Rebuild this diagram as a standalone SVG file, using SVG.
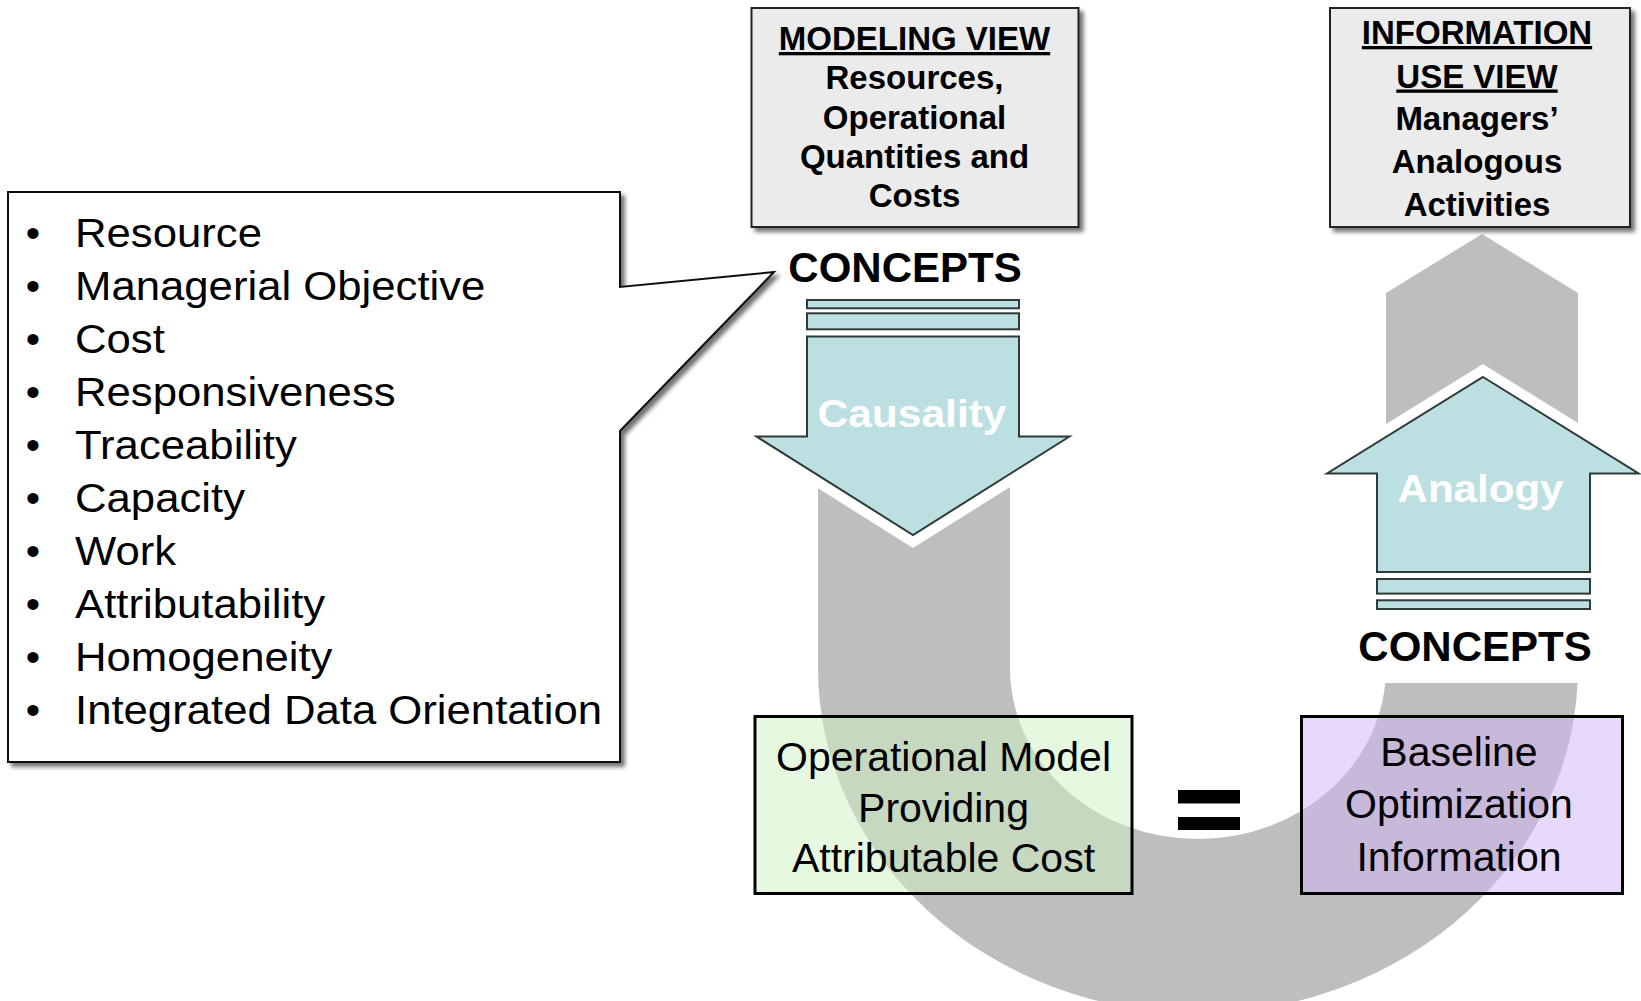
<svg xmlns="http://www.w3.org/2000/svg" width="1641" height="1001" viewBox="0 0 1641 1001">
  <defs>
    <style>
      text { font-family: "Liberation Sans", Arial, Helvetica, sans-serif; fill: #000; }
      .hdr { font-weight: bold; font-size: 33px; text-anchor: middle; }
      .ul { text-decoration: underline; }
      .list { font-size: 41px; }
      .bul { font-size: 41px; text-anchor: middle; }
      .boxt { font-size: 41px; text-anchor: middle; }
      .lbl { font-weight: bold; font-size: 38px; text-anchor: middle; fill: #ffffff; }
      .concepts { font-weight: bold; font-size: 42px; text-anchor: middle; }
      .view { fill: #ebebeb; stroke: #222; stroke-width: 2; }
      .arrow { fill: #bcdfe2; stroke: #2f3a3a; stroke-width: 2; stroke-linejoin: miter; }
      .halo { fill: none; stroke: #ffffff; stroke-width: 22; stroke-linejoin: miter; }
      .gray { fill: #bebebe; }
    </style>
    <filter id="shadow" x="-5%" y="-5%" width="115%" height="115%">
      <feDropShadow dx="4" dy="4" stdDeviation="2" flood-color="#444" flood-opacity="0.75"/>
    </filter>
  </defs>

  <rect width="1641" height="1001" fill="#ffffff"/>

  <!-- connectors: U-turn band and the two arrows -->
  <g id="connectors">
    <path class="gray" d="M818,345 V668 A380,345 0 0 0 1578,668 V293 L1482,234 L1386,293 V668 A188,171 0 0 1 1010,668 V345 Z"/>
    <rect x="1368" y="568" width="234" height="115" fill="#ffffff"/>

    <g id="causality-arrow">
      <path class="halo" d="M807,336.5 H1019 V436.5 H1069.5 L913,535 L756.5,436.5 H807 Z"/>
      <rect class="arrow" x="807" y="300" width="212" height="8.3"/>
      <rect class="arrow" x="807" y="313.3" width="212" height="16"/>
      <path class="arrow" d="M807,336.5 H1019 V436.5 H1069.5 L913,535 L756.5,436.5 H807 Z"/>
      <text class="lbl" x="912" y="427" textLength="189" lengthAdjust="spacingAndGlyphs">Causality</text>
    </g>

    <g id="analogy-arrow">
      <path class="halo" d="M1483,377 L1638.5,473.5 H1590 V572 H1377 V473.5 H1327 Z"/>
      <path class="arrow" d="M1483,377 L1638.5,473.5 H1590 V572 H1377 V473.5 H1327 Z"/>
      <rect class="arrow" x="1377" y="579" width="213" height="14.6"/>
      <rect class="arrow" x="1377" y="600.3" width="213" height="8.7"/>
      <text class="lbl" x="1480.5" y="502" textLength="166" lengthAdjust="spacingAndGlyphs">Analogy</text>
    </g>
  </g>

  <!-- concept list callout -->
  <g id="concept-list">
    <path d="M8,192 H620 V287 L774,272 L620,431 V762 H8 Z" fill="#ffffff" stroke="#111" stroke-width="2" filter="url(#shadow)"/>
    <g>
      <text class="bul" x="33" y="247">•</text>
      <text class="bul" x="33" y="300">•</text>
      <text class="bul" x="33" y="353">•</text>
      <text class="bul" x="33" y="406">•</text>
      <text class="bul" x="33" y="459">•</text>
      <text class="bul" x="33" y="512">•</text>
      <text class="bul" x="33" y="565">•</text>
      <text class="bul" x="33" y="618">•</text>
      <text class="bul" x="33" y="671">•</text>
      <text class="bul" x="33" y="724">•</text>
    </g>
    <g transform="translate(75,0) scale(1.066,1)">
      <text class="list" x="0" y="247">Resource</text>
      <text class="list" x="0" y="300">Managerial Objective</text>
      <text class="list" x="0" y="353">Cost</text>
      <text class="list" x="0" y="406">Responsiveness</text>
      <text class="list" x="0" y="459">Traceability</text>
      <text class="list" x="0" y="512">Capacity</text>
      <text class="list" x="0" y="565">Work</text>
      <text class="list" x="0" y="618">Attributability</text>
      <text class="list" x="0" y="671">Homogeneity</text>
      <text class="list" x="0" y="724">Integrated Data Orientation</text>
    </g>
  </g>

  <!-- modeling view -->
  <g id="modeling-view">
    <rect class="view" x="751.5" y="8" width="327" height="219" filter="url(#shadow)"/>
    <text class="hdr ul" x="914.5" y="50">MODELING VIEW</text>
    <text class="hdr" x="914.5" y="89">Resources,</text>
    <text class="hdr" x="914.5" y="128.5">Operational</text>
    <text class="hdr" x="914.5" y="168">Quantities and</text>
    <text class="hdr" x="914.5" y="207">Costs</text>
  </g>

  <!-- information use view -->
  <g id="information-use-view">
    <rect class="view" x="1330" y="8" width="300" height="219" filter="url(#shadow)"/>
    <text class="hdr ul" x="1477" y="44">INFORMATION</text>
    <text class="hdr ul" x="1477" y="87.5">USE VIEW</text>
    <text class="hdr" x="1477" y="130">Managers’</text>
    <text class="hdr" x="1477" y="173">Analogous</text>
    <text class="hdr" x="1477" y="216">Activities</text>
  </g>

  <!-- concept labels -->
  <g id="concepts-top">
    <text class="concepts" x="905" y="282">CONCEPTS</text>
  </g>
  <g id="concepts-bottom">
    <text class="concepts" x="1475" y="661">CONCEPTS</text>
  </g>

  <!-- operational model -->
  <g id="operational-model">
    <rect x="755" y="716.5" width="377" height="177" fill="#cdf1c1" fill-opacity="0.5" stroke="#000" stroke-width="3"/>
    <text class="boxt" x="943.5" y="771">Operational Model</text>
    <text class="boxt" x="943.5" y="822">Providing</text>
    <text class="boxt" x="943.5" y="872">Attributable Cost</text>
  </g>

  <!-- equals -->
  <g id="equals">
    <rect x="1178" y="790" width="62" height="13.5" fill="#000"/>
    <rect x="1178" y="817" width="62" height="13" fill="#000"/>
  </g>

  <!-- baseline optimization information -->
  <g id="baseline-optimization">
    <rect x="1301.5" y="716.5" width="321" height="177" fill="#d1b1f5" fill-opacity="0.5" stroke="#000" stroke-width="3"/>
    <text class="boxt" x="1459" y="766">Baseline</text>
    <text class="boxt" x="1459" y="818">Optimization</text>
    <text class="boxt" x="1459" y="871">Information</text>
  </g>
</svg>
